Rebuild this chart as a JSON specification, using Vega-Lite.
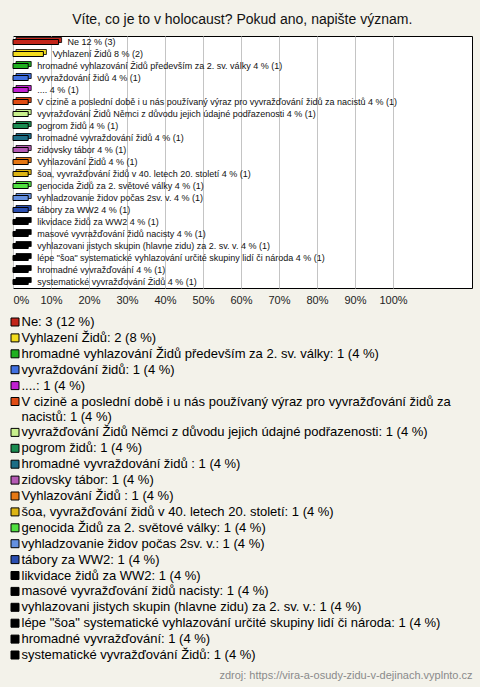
{
  "$schema": "https://vega.github.io/schema/vega-lite/v6.json",
  "background": "#f3f2ea",
  "padding": {"left": 8, "right": 10, "top": 12, "bottom": 7},
  "title": {
    "text": "zdroj: https://vira-a-osudy-zidu-v-dejinach.vyplnto.cz",
    "orient": "bottom",
    "anchor": "end",
    "fontSize": 11,
    "fontWeight": "normal",
    "color": "#8a8a8a",
    "offset": 7
  },
  "data": {
    "values": [
      {"order": 1, "name": "Ne", "count": 3, "pct": 12},
      {"order": 2, "name": "Vyhlazení Židů", "count": 2, "pct": 8},
      {"order": 3, "name": "hromadné vyhlazování Židů především za 2. sv. války", "count": 1, "pct": 4},
      {"order": 4, "name": "vyvraždování židů", "count": 1, "pct": 4},
      {"order": 5, "name": "....", "count": 1, "pct": 4},
      {"order": 6, "name": "V cizině a poslední době i u nás používaný výraz pro vyvražďování židů za nacistů", "count": 1, "pct": 4},
      {"order": 7, "name": "vyvražďování Židů Němci z důvodu jejich údajné podřazenosti", "count": 1, "pct": 4},
      {"order": 8, "name": "pogrom židů", "count": 1, "pct": 4},
      {"order": 9, "name": "hromadné vyvraždování židů ", "count": 1, "pct": 4},
      {"order": 10, "name": "zidovsky tábor", "count": 1, "pct": 4},
      {"order": 11, "name": "Vyhlazování Židů ", "count": 1, "pct": 4},
      {"order": 12, "name": "šoa, vyvražďování židů v 40. letech 20. století", "count": 1, "pct": 4},
      {"order": 13, "name": "genocida Židů za 2. světové války", "count": 1, "pct": 4},
      {"order": 14, "name": "vyhladzovanie židov počas 2sv. v.", "count": 1, "pct": 4},
      {"order": 15, "name": "tábory za WW2", "count": 1, "pct": 4},
      {"order": 16, "name": "likvidace židů za WW2", "count": 1, "pct": 4},
      {"order": 17, "name": "masové vyvražďování židů nacisty", "count": 1, "pct": 4},
      {"order": 18, "name": "vyhlazovani jistych skupin (hlavne zidu) za 2. sv. v.", "count": 1, "pct": 4},
      {"order": 19, "name": "lépe \"šoa\" systematické vyhlazování určité skupiny lidí či národa", "count": 1, "pct": 4},
      {"order": 20, "name": "hromadné vyvražďování", "count": 1, "pct": 4},
      {"order": 21, "name": "systematické vyvražďování Židů", "count": 1, "pct": 4}
    ]
  },
  "transform": [
    {"calculate": "datum.name + ' ' + datum.pct + ' % (' + datum.count + ')'", "as": "barLabel"},
    {"calculate": "datum.name + ': ' + datum.count + ' (' + datum.pct + ' %)'", "as": "legendLabel"}
  ],
  "vconcat": [
    {
      "title": {
        "text": "Víte, co je to v holocaust? Pokud ano, napište význam.",
        "anchor": "middle",
        "fontSize": 14,
        "fontWeight": "normal",
        "color": "#111111",
        "offset": 9
      },
      "vconcat": [
        {
          "width": 459,
          "height": 252,
          "encoding": {
            "y": {
              "field": "name",
              "type": "nominal",
              "sort": {"field": "order"},
              "scale": {"paddingInner": 0, "paddingOuter": 0},
              "axis": null
            },
            "x": {
              "field": "pct",
              "type": "quantitative",
              "scale": {"domain": [0, 120.8], "nice": false},
              "axis": {
                "title": null,
                "values": [0, 10, 20, 30, 40, 50, 60, 70, 80, 90, 100],
                "labelExpr": "datum.value + '%'",
                "grid": true,
                "gridColor": "#c4c4c4",
                "domain": false,
                "ticks": false,
                "tickSize": 0,
                "labelPadding": 6,
                "labelFontSize": 11,
                "labelFlush": true,
                "labelColor": "#222222"
              }
            }
          },
          "layer": [
            {
              "mark": {"type": "bar", "size": 5, "xOffset": 3, "yOffset": -2, "stroke": "#000000", "strokeWidth": 0.8},
              "encoding": {
                "color": {
                  "field": "legendLabel",
                  "type": "nominal",
                  "sort": {"field": "order"},
                  "scale": {
                    "range": ["#c3261b", "#f2dc1e", "#20b020", "#4070e0", "#c020d0", "#e04c14", "#c8f08c", "#1a8c50", "#1e6e86", "#b45ab4", "#e67814", "#dcb414", "#50e040", "#6490e0", "#2a4eb0", "#000000", "#000000", "#000000", "#000000", "#000000", "#000000"]
                  },
                  "legend": {
                    "title": null,
                    "orient": "none",
                    "legendX": -4.5,
                    "legendY": 279.5,
                    "direction": "vertical",
                    "columns": 1,
                    "padding": 0,
                    "symbolType": "square",
                    "symbolSize": 64,
                    "symbolStrokeColor": "#000000",
                    "symbolStrokeWidth": 1,
                    "symbolOpacity": 1,
                    "labelFontSize": 13,
                    "labelColor": "#000000",
                    "labelLimit": 0,
                    "labelOffset": 0,
                    "rowPadding": 1.9,
                    "labelExpr": "length(datum.label) > 80 ? [substring(datum.label, 0, lastindexof(substring(datum.label, 0, 74), ' ')), substring(datum.label, lastindexof(substring(datum.label, 0, 74), ' ') + 1)] : datum.label"
                  }
                }
              }
            },
            {
              "mark": {"type": "bar", "size": 5, "stroke": "#000000", "strokeWidth": 1},
              "encoding": {
                "color": {"field": "legendLabel", "type": "nominal", "sort": {"field": "order"}}
              }
            },
            {
              "mark": {"type": "text", "align": "left", "baseline": "middle", "dx": 9, "fontSize": 9, "color": "#111111"},
              "encoding": {
                "text": {"field": "barLabel"}
              }
            }
          ]
        }
      ]
    }
  ],
  "config": {
    "font": "Liberation Sans",
    "view": {"stroke": "#000000", "strokeWidth": 1, "fill": "#ffffff"}
  }
}
